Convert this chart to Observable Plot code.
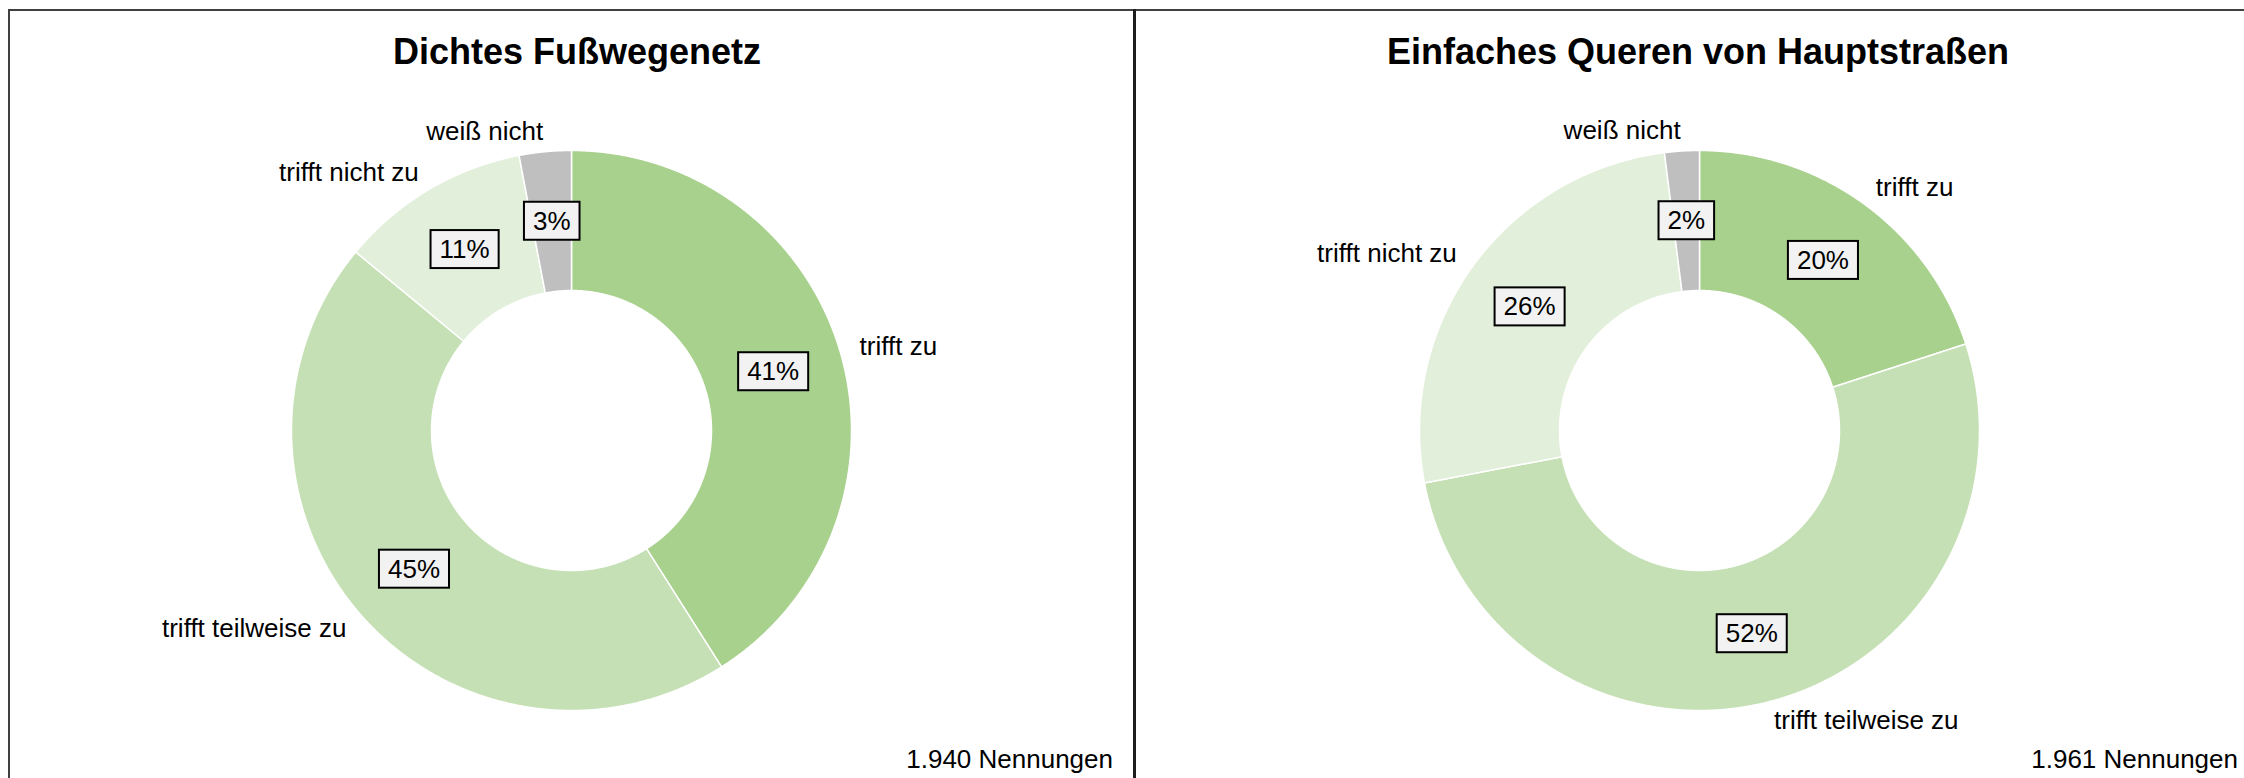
<!DOCTYPE html>
<html>
<head>
<meta charset="utf-8">
<script src="https://cdn.jsdelivr.net/npm/d3@7"></script>
<script src="https://cdn.jsdelivr.net/npm/@observablehq/plot@0.6"></script>
<style>
  html, body { margin: 0; padding: 0; background: #fff; }
  body { width: 2244px; height: 778px; position: relative; overflow: hidden;
         font-family: "Liberation Sans", Arial, sans-serif; color: #000; }
  .line { position: absolute; }
  .title { position: absolute; top: 34px; width: 900px; text-align: center;
           font-size: 36px; line-height: 36px; font-weight: bold; white-space: nowrap; }
  .caption { position: absolute; top: 746px; width: 400px; text-align: right;
             font-size: 26px; line-height: 26px; white-space: nowrap; }
  .chart { position: absolute; top: 0; }
  .chart svg { overflow: visible; }
</style>
</head>
<body>
<div class="line" style="left:8px;top:9px;width:2240px;height:2px;background:#404040"></div>
<div class="line" style="left:8px;top:9px;width:2px;height:780px;background:#404040"></div>
<div class="line" style="left:1133px;top:9px;width:3px;height:780px;background:#1e1e1e"></div>

<script>
// ---- data ----
const categories = ["trifft zu", "trifft teilweise zu", "trifft nicht zu", "weiß nicht"];
const sliceColors = ["#a9d18e", "#c5e0b4", "#e2efda", "#bfbfbf"];
const chartTitles = ["Dichtes Fußwegenetz", "Einfaches Queren von Hauptstraßen"];
const valuesFussweg = [41, 45, 11, 3];
const valuesQueren = [20, 52, 26, 2];
const nennungen = [1940, 1961];

// ---- layout ----
const panels = [
  {values: valuesFussweg, title: chartTitles[0], n: nennungen[0], left: 0, width: 1134, cx: 571, titleCx: 577, capRight: 1113},
  {values: valuesQueren, title: chartTitles[1], n: nennungen[1], left: 1134, width: 1110, cx: 1699, titleCx: 1698, capRight: 2238}
];
const H = 778, CY = 430, S = 330;      // square frame half-size (1 unit = 1 px)
const R_OUT = 280, R_IN = 140, R_LAB = 210, R_CAT = 300;

function buildChart(values) {
  const total = d3.sum(values);
  let acc = 0;
  const slices = values.map((v, i) => {
    const a0 = acc / total * 2 * Math.PI;
    acc += v;
    const a1 = acc / total * 2 * Math.PI;
    return {category: categories[i], value: v, a0, a1, mid: (a0 + a1) / 2};
  });
  const pt = (r, a) => [r * Math.sin(a), -r * Math.cos(a)];
  const features = slices.map(s => {
    const n = Math.max(2, Math.ceil((s.a1 - s.a0) / 0.004));
    const ring = [];
    for (let k = 0; k <= n; k++) ring.push(pt(R_OUT, s.a0 + (s.a1 - s.a0) * k / n));
    for (let k = n; k >= 0; k--) ring.push(pt(R_IN, s.a0 + (s.a1 - s.a0) * k / n));
    ring.push(ring[0]);
    return {type: "Feature", properties: {category: s.category},
            geometry: {type: "Polygon", coordinates: [ring]}};
  });
  const labels = slices.map(s => {
    const [lx, ly] = pt(R_LAB, s.mid);
    const [cx, cy] = pt(R_CAT, s.mid);
    return {...s, lx, ly, cx, cy, right: Math.sin(s.mid) > 0};
  });
  return {features, labels};
}

panels.forEach((p, idx) => {
  const {features, labels} = buildChart(p.values);
  const localCx = p.cx - p.left;
  const plot = Plot.plot({
    width: p.width,
    height: H,
    marginLeft: localCx - S,
    marginRight: p.width - (localCx + S),
    marginTop: CY - S,
    marginBottom: H - (CY + S),
    projection: {type: "identity", domain: {type: "MultiPoint", coordinates: [[-S, -S], [S, S]]}},
    color: {domain: categories, range: sliceColors},
    style: {fontFamily: "'Liberation Sans', Arial, sans-serif", fontSize: "26px", background: "transparent", color: "#000"},
    marks: [
      Plot.geo(features, {fill: d => d.properties.category, stroke: "white", strokeWidth: 1.5}),
      Plot.text(labels, {x: "lx", y: "ly", text: d => d.value + "%", fontSize: 26, fill: "#000"}),
      Plot.text(labels.filter(d => d.right), {x: "cx", y: "cy", text: "category", textAnchor: "start", fontSize: 26, fill: "#000"}),
      Plot.text(labels.filter(d => !d.right), {x: "cx", y: "cy", text: "category", textAnchor: "end", fontSize: 26, fill: "#000"})
    ]
  });
  const holder = document.createElement("div");
  holder.className = "chart";
  holder.style.left = p.left + "px";
  holder.appendChild(plot);
  document.body.appendChild(holder);

  // boxes behind the percentage labels
  const ns = "http://www.w3.org/2000/svg";
  plot.querySelectorAll("text").forEach(t => {
    if (!/^\d+%$/.test(t.textContent.trim())) return;
    const b = t.getBBox();
    const rect = document.createElementNS(ns, "rect");
    const cyb = b.y + b.height / 2;
    rect.setAttribute("x", b.x - 9);
    rect.setAttribute("y", cyb - 19);
    rect.setAttribute("width", b.width + 18);
    rect.setAttribute("height", 38);
    rect.setAttribute("fill", "#f2f2f2");
    rect.setAttribute("stroke", "#000");
    rect.setAttribute("stroke-width", 2);
    if (t.getAttribute("transform")) rect.setAttribute("transform", t.getAttribute("transform"));
    t.parentNode.insertBefore(rect, t);
  });

  const title = document.createElement("div");
  title.className = "title";
  title.style.left = (p.titleCx - 450) + "px";
  title.textContent = p.title;
  document.body.appendChild(title);

  const cap = document.createElement("div");
  cap.className = "caption";
  cap.style.left = (p.capRight - 400) + "px";
  cap.textContent = p.n.toLocaleString("de-DE") + " Nennungen";
  document.body.appendChild(cap);
});
</script>
</body>
</html>
